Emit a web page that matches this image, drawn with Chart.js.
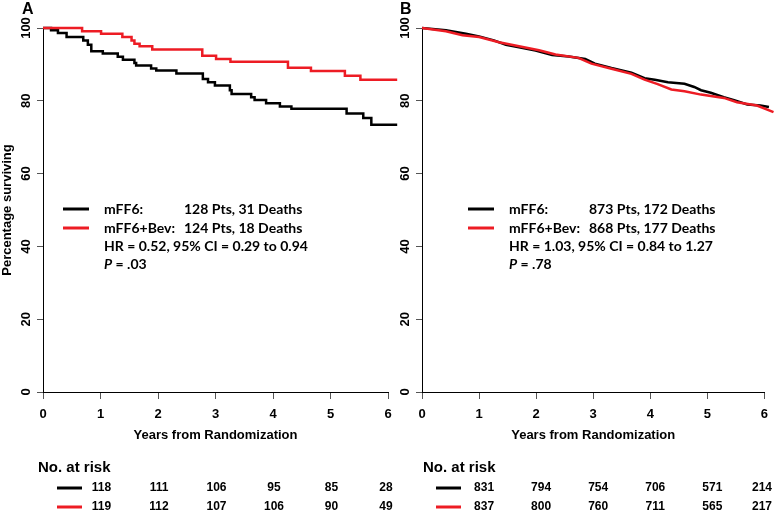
<!DOCTYPE html>
<html>
<head>
<meta charset="utf-8">
<script src="https://cdn.jsdelivr.net/npm/chart.js@4.4.1/dist/chart.umd.min.js"></script>
<style>
  html, body { margin: 0; padding: 0; background: #fff; }
  #wrap { position: relative; width: 776px; height: 516px; overflow: hidden; }
  canvas { position: absolute; top: 0; }
  #chartA { left: 0; }
  #chartB { left: 380px; }
</style>
</head>
<body>
<div id="wrap">
  <canvas id="chartA" width="400" height="516"></canvas>
  <canvas id="chartB" width="396" height="516"></canvas>
</div>
<script>
// axis ticks
const xTickValues = [0, 1, 2, 3, 4, 5, 6];
const yTickValues = [0, 20, 40, 60, 80, 100];

// panel A (Kaplan-Meier)
const aMff6Years = [0, 0.14, 0.26, 0.41, 0.70, 0.78, 0.84, 1.04, 1.30, 1.39, 1.59, 1.62, 1.88, 1.97, 2.32, 2.78, 2.87, 2.99, 3.25, 3.28, 3.62, 3.68, 3.88, 4.12, 4.32, 5.28, 5.57, 5.71, 6.16];
const aMff6Surv = [100, 99.4, 98.6, 97.5, 96.6, 95.4, 93.6, 93.0, 92.1, 91.3, 90.4, 89.7, 88.9, 88.3, 87.5, 86.0, 85.1, 84.2, 82.9, 81.9, 81.0, 80.2, 79.3, 78.4, 77.8, 76.5, 75.3, 73.4, 73.4];
const aBevYears = [0, 0.68, 1.01, 1.38, 1.54, 1.59, 1.68, 1.90, 2.77, 3.01, 3.26, 4.26, 4.66, 5.25, 5.52, 6.16];
const aBevSurv = [100, 99.1, 98.4, 97.5, 96.6, 95.7, 95.0, 94.1, 92.4, 91.5, 90.7, 89.1, 88.2, 86.9, 85.8, 85.8];

// panel B
const bMff6Years = [0, 0.42, 0.77, 1.00, 1.26, 1.47, 1.70, 1.99, 2.28, 2.57, 2.86, 3.03, 3.32, 3.67, 3.90, 4.08, 4.31, 4.60, 4.77, 4.89, 5.06, 5.29, 5.47, 5.70, 5.93, 6.08, 6.16];
const bMff6Surv = [100, 99.4, 98.4, 97.7, 96.6, 95.4, 94.7, 93.8, 92.6, 92.2, 91.5, 90.2, 89.0, 87.7, 86.2, 85.8, 85.1, 84.7, 83.8, 82.9, 82.2, 81.0, 80.2, 79.0, 78.7, 78.3, 77.6];
const bBevYears = [0, 0.42, 0.71, 1.00, 1.35, 1.70, 2.05, 2.34, 2.74, 2.97, 3.32, 3.67, 3.90, 4.13, 4.37, 4.60, 4.89, 5.29, 5.52, 5.87, 6.16];
const bBevSurv = [100, 99.1, 98.0, 97.5, 96.1, 95.0, 93.9, 92.7, 91.8, 90.2, 88.8, 87.4, 85.8, 84.6, 83.1, 82.6, 81.7, 80.8, 79.6, 78.7, 76.9];

// number at risk
const riskYears = [1, 2, 3, 4, 5, 6];
const aRiskMff6 = [118, 111, 106, 95, 85, 28];
const aRiskBev = [119, 112, 107, 106, 90, 49];
const bRiskMff6 = [831, 794, 754, 706, 571, 214];
const bRiskBev = [837, 800, 760, 711, 565, 217];

// legend text
const aLegend = ["mFF6:", "128 Pts, 31 Deaths", "mFF6+Bev:", "124 Pts, 18 Deaths", "HR = 0.52, 95% CI = 0.29 to 0.94", " = .03"];
const bLegend = ["mFF6:", "873 Pts, 172 Deaths", "mFF6+Bev:", "868 Pts, 177 Deaths", "HR = 1.03, 95% CI = 0.84 to 1.27", " = .78"];

const RED = "#ed1c24";
const AXIS_FONT = "'Liberation Sans', Arial, sans-serif";
const LEGEND_FONT = "Lato, 'Open Sans', sans-serif";

const toPoints = (xs, ys) => xs.map((x, i) => ({ x: x, y: ys[i] }));

const kmText = {
  id: "kmText",
  afterDraw(chart, args, opts) {
    const ctx = chart.ctx;
    const xs = chart.scales.x;
    const left = chart.chartArea.left;
    ctx.save();
    ctx.fillStyle = "#000";
    ctx.textBaseline = "middle";

    // panel letter
    ctx.textAlign = "left";
    ctx.font = "bold 16px " + AXIS_FONT;
    ctx.fillText(opts.letter, opts.letterX, 10);

    // legend box
    const lg = opts.legend;
    const rows = [209, 228, 246, 264];
    ctx.lineWidth = 3;
    ctx.strokeStyle = "#000";
    ctx.beginPath();
    ctx.moveTo(opts.lineX, rows[0]);
    ctx.lineTo(opts.lineX + 26, rows[0]);
    ctx.stroke();
    ctx.strokeStyle = RED;
    ctx.beginPath();
    ctx.moveTo(opts.lineX, rows[1]);
    ctx.lineTo(opts.lineX + 26, rows[1]);
    ctx.stroke();

    ctx.font = "bold 14px " + LEGEND_FONT;
    ctx.fillText(lg[0], opts.textX, rows[0]);
    ctx.fillText(lg[1], opts.textX + 80, rows[0]);
    ctx.fillText(lg[2], opts.textX, rows[1]);
    ctx.fillText(lg[3], opts.textX + 80, rows[1]);
    ctx.fillText(lg[4], opts.textX, rows[2]);
    ctx.font = "italic bold 14px " + LEGEND_FONT;
    ctx.fillText("P", opts.textX, rows[3]);
    const pw = ctx.measureText("P").width;
    ctx.font = "bold 14px " + LEGEND_FONT;
    ctx.fillText(lg[5], opts.textX + pw, rows[3]);

    // number at risk table
    ctx.font = "bold 15px " + AXIS_FONT;
    ctx.fillText("No. at risk", opts.riskLabelX, 468);
    const riskRows = [488, 507];
    ctx.lineWidth = 3;
    ctx.strokeStyle = "#000";
    ctx.beginPath();
    ctx.moveTo(left + 14, riskRows[0]);
    ctx.lineTo(left + 39, riskRows[0]);
    ctx.stroke();
    ctx.strokeStyle = RED;
    ctx.beginPath();
    ctx.moveTo(left + 14, riskRows[1]);
    ctx.lineTo(left + 39, riskRows[1]);
    ctx.stroke();

    ctx.font = "bold 12px " + AXIS_FONT;
    ctx.textAlign = "center";
    const maxX = chart.width - 14;
    riskYears.forEach((yr, i) => {
      const px = Math.min(xs.getPixelForValue(yr) + opts.riskShift, maxX);
      ctx.fillText(String(opts.risk[0][i]), px, riskRows[0]);
      ctx.fillText(String(opts.risk[1][i]), px, riskRows[1]);
    });
    ctx.restore();
  },
};

function kmChart(canvas, black, red, panel) {
  const tickFont = { family: AXIS_FONT, size: 13, weight: "bold" };
  return new Chart(canvas, {
    type: "line",
    data: {
      datasets: [
        {
          label: "mFF6",
          data: black,
          borderColor: "#000",
          borderWidth: 2.5,
          stepped: panel.stepped,
          pointRadius: 0,
          fill: false,
          order: 1,
          clip: { left: 4, top: 4, right: 12, bottom: 4 },
        },
        {
          label: "mFF6+Bev",
          data: red,
          borderColor: RED,
          borderWidth: 2.5,
          stepped: panel.stepped,
          pointRadius: 0,
          fill: false,
          order: 0,
          clip: { left: 4, top: 4, right: 12, bottom: 4 },
        },
      ],
    },
    options: {
      responsive: false,
      animation: false,
      events: [],
      layout: { padding: { left: 0, top: 28, right: panel.padRight, bottom: 0 } },
      plugins: {
        legend: { display: false },
        tooltip: { enabled: false },
        kmText: panel,
      },
      scales: {
        x: {
          type: "linear",
          min: 0,
          max: 6,
          afterBuildTicks: (s) => {
            s.ticks = xTickValues.map((v) => ({ value: v }));
          },
          afterFit: (s) => {
            s.height = 124;
          },
          grid: { display: true, drawOnChartArea: false, drawTicks: true, tickLength: 7, tickColor: "#555" },
          border: { display: true, color: "#000", width: 1 },
          ticks: { color: "#000", font: tickFont, padding: 8, maxRotation: 0, autoSkip: false },
          title: {
            display: true,
            text: "Years from Randomization",
            color: "#000",
            font: tickFont,
            padding: { top: 0, bottom: 73 },
          },
        },
        y: {
          type: "linear",
          min: 0,
          max: 100,
          afterBuildTicks: (s) => {
            s.ticks = yTickValues.map((v) => ({ value: v }));
          },
          afterFit: (s) => {
            s.width = panel.axisLeft;
          },
          grid: { display: true, drawOnChartArea: false, drawTicks: true, tickLength: 6, tickColor: "#555" },
          border: { display: true, color: "#000", width: 1 },
          ticks: {
            color: "#000",
            font: tickFont,
            minRotation: 90,
            maxRotation: 90,
            crossAlign: "center",
            padding: 0,
            autoSkip: false,
          },
          title: {
            display: panel.yTitle,
            text: "Percentage surviving",
            color: "#000",
            font: tickFont,
            padding: { top: 0, bottom: 0 },
          },
        },
      },
    },
    plugins: [kmText],
  });
}

kmChart(
  document.getElementById("chartA"),
  toPoints(aMff6Years, aMff6Surv),
  toPoints(aBevYears, aBevSurv),
  {
    letter: "A", letterX: 22, stepped: "before", yTitle: true, axisLeft: 43, padRight: 12,
    legend: aLegend, lineX: 63, textX: 104,
    risk: [aRiskMff6, aRiskBev], riskLabelX: 38, riskShift: 1,
  }
);

kmChart(
  document.getElementById("chartB"),
  toPoints(bMff6Years, bMff6Surv),
  toPoints(bBevYears, bBevSurv),
  {
    letter: "B", letterX: 20, stepped: false, yTitle: false, axisLeft: 42, padRight: 9,
    legend: bLegend, lineX: 88, textX: 129,
    risk: [bRiskMff6, bRiskBev], riskLabelX: 43, riskShift: 5,
  }
);
</script>
</body>
</html>
